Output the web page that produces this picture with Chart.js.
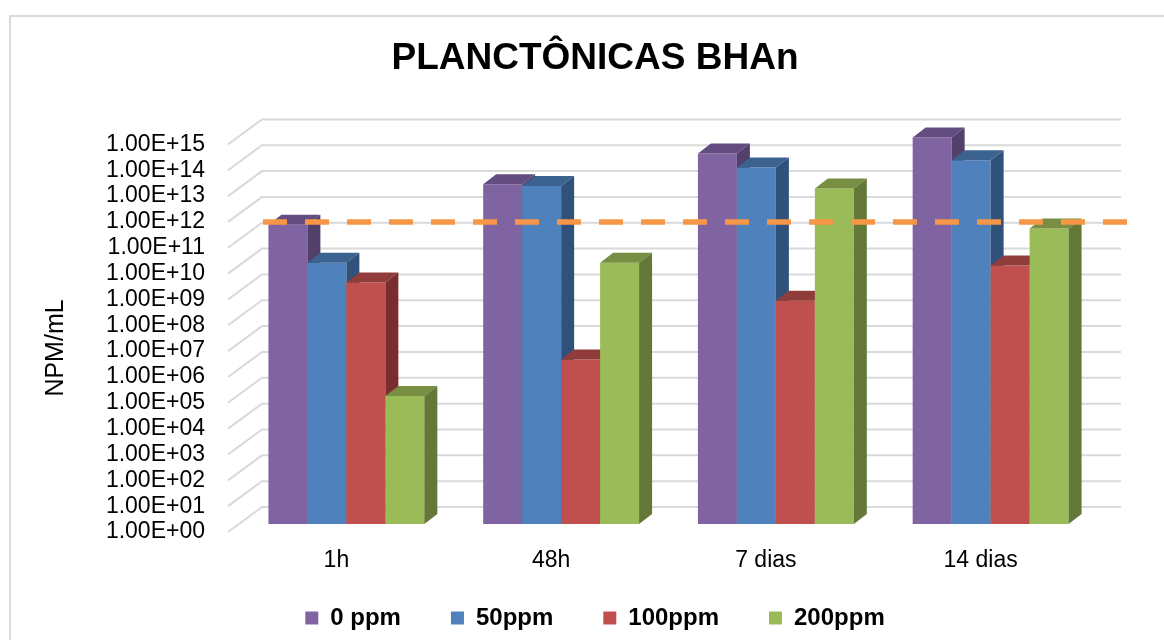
<!DOCTYPE html>
<html>
<head>
<meta charset="utf-8">
<script src="https://cdn.jsdelivr.net/npm/chart.js@4.4.1/dist/chart.umd.min.js"></script>
<style>
  html, body { margin: 0; padding: 0; background: #ffffff; }
  canvas { display: block; }
</style>
</head>
<body>
<canvas id="chart" width="1164" height="640"></canvas>
<script>
// Sampling times and treatment concentrations
const categories = ['1h', '48h', '7 dias', '14 dias'];
const seriesNames = ['0 ppm', '50ppm', '100ppm', '200ppm'];

// NPM/mL per treatment
const ppm0   = [3.8e11, 1.4e13, 2.2e14, 9.1e14];
const ppm50  = [1.3e10, 1.2e13, 6.2e13, 1.2e14];
const ppm100 = [2.2e9,  2.3e6,  4.4e8,  1.0e10];
const ppm200 = [9.0e4,  1.3e10, 9.6e12, 2.7e11];

// Logarithmic axis ticks
const tickValues = [1, 1e1, 1e2, 1e3, 1e4, 1e5, 1e6, 1e7, 1e8, 1e9, 1e10, 1e11, 1e12, 1e13, 1e14, 1e15];
const tickLabels = ['1.00E+00', '1.00E+01', '1.00E+02', '1.00E+03', '1.00E+04', '1.00E+05',
                    '1.00E+06', '1.00E+07', '1.00E+08', '1.00E+09', '1.00E+10', '1.00E+11',
                    '1.00E+12', '1.00E+13', '1.00E+14', '1.00E+15'];

// Reference level marked with the dashed line
const referenceLevel = 1e12;

const axisTitle = 'NPM/mL';

// Colours: front, top and side faces of each series
const frontColors = ['#8064A2', '#4F81BD', '#C0504D', '#9BBB59'];
const topColors   = ['#634D80', '#3C628F', '#903C3A', '#778E43'];
const sideColors  = ['#52406B', '#30527A', '#792E2D', '#647837'];

const FONT = '"Liberation Sans", Arial, sans-serif';

// Perspective offsets (pixels)
const BAR_SHIFT_X = 11, BAR_SHIFT_Y = -8;   // bar plane relative to the axis plane
const BAR_DEPTH_X = 13, BAR_DEPTH_Y = -10;  // bar thickness
const WALL_X = 34, WALL_Y = -25;            // back wall relative to the axis plane

const seriesData = [ppm0, ppm50, ppm100, ppm200];

const depthPlugin = {
  id: 'depth3d',
  beforeDraw(chart) {
    const ctx = chart.ctx;
    ctx.save();
    ctx.fillStyle = '#ffffff';
    ctx.fillRect(0, 0, chart.width, chart.height);
    ctx.strokeStyle = '#d9d9d9';
    ctx.lineWidth = 2;
    ctx.beginPath();
    ctx.moveTo(10, chart.height);
    ctx.lineTo(10, 16);
    ctx.lineTo(chart.width, 16);
    ctx.stroke();
    ctx.restore();
  },
  beforeDatasetsDraw(chart) {
    // floor/side slants and back-wall gridlines at every tick
    const ctx = chart.ctx;
    const y = chart.scales.y;
    const area = chart.chartArea;
    ctx.save();
    ctx.strokeStyle = '#d9d9d9';
    ctx.lineWidth = 2;
    tickValues.forEach(v => {
      const py = y.getPixelForValue(v);
      ctx.beginPath();
      ctx.moveTo(area.left, py);
      ctx.lineTo(area.left + WALL_X, py + WALL_Y);
      ctx.lineTo(area.right + WALL_X, py + WALL_Y);
      ctx.stroke();
    });
    ctx.restore();
  },
  beforeDatasetDraw() {
    // bars are painted left to right below, so the 3D faces overlap correctly
    return false;
  },
  afterDatasetsDraw(chart) {
    const ctx = chart.ctx;
    const metas = chart.getSortedVisibleDatasetMetas();
    ctx.save();
    ctx.translate(BAR_SHIFT_X, BAR_SHIFT_Y);
    metas.forEach(meta => {
      const di = meta.index;
      meta.data.forEach(bar => {
        const p = bar.getProps(['x', 'y', 'base', 'width'], true);
        bar.draw(ctx);
        const l = p.x - p.width / 2, r = p.x + p.width / 2;
        // top face
        ctx.fillStyle = topColors[di];
        ctx.beginPath();
        ctx.moveTo(l, p.y);
        ctx.lineTo(r, p.y);
        ctx.lineTo(r + BAR_DEPTH_X, p.y + BAR_DEPTH_Y);
        ctx.lineTo(l + BAR_DEPTH_X, p.y + BAR_DEPTH_Y);
        ctx.closePath();
        ctx.fill();
        // side face
        ctx.fillStyle = sideColors[di];
        ctx.beginPath();
        ctx.moveTo(r, p.y);
        ctx.lineTo(r + BAR_DEPTH_X, p.y + BAR_DEPTH_Y);
        ctx.lineTo(r + BAR_DEPTH_X, p.base + BAR_DEPTH_Y);
        ctx.lineTo(r, p.base);
        ctx.closePath();
        ctx.fill();
      });
    });
    ctx.restore();

    // dashed reference line
    const y = chart.scales.y;
    const area = chart.chartArea;
    const py = y.getPixelForValue(referenceLevel);
    ctx.save();
    ctx.strokeStyle = '#F79646';
    ctx.lineWidth = 5.5;
    ctx.setLineDash([24, 18]);
    ctx.beginPath();
    ctx.moveTo(area.left + 35, py);
    ctx.lineTo(area.right + 40, py);
    ctx.stroke();
    ctx.restore();
  },
  afterDraw(chart) {
    const ctx = chart.ctx;
    ctx.save();
    ctx.fillStyle = '#000000';
    ctx.textAlign = 'center';
    ctx.textBaseline = 'middle';

    // category labels under the floor
    const x = chart.scales.x;
    ctx.font = '23px ' + FONT;
    categories.forEach((c, i) => {
      ctx.fillText(c, x.getPixelForValue(i) + 1, chart.chartArea.bottom + 29);
    });

    // vertical axis title
    ctx.translate(56, 348);
    ctx.rotate(-Math.PI / 2);
    ctx.font = '25px ' + FONT;
    ctx.fillText(axisTitle, 0, 0);
    ctx.restore();
  }
};

const datasets = seriesNames.map((name, i) => ({
  label: name,
  data: seriesData[i],
  backgroundColor: frontColors[i],
  borderWidth: 0,
  categoryPercentage: 0.726,
  barPercentage: 1.0
}));

new Chart(document.getElementById('chart'), {
  type: 'bar',
  data: { labels: categories, datasets },
  plugins: [depthPlugin],
  options: {
    responsive: false,
    animation: false,
    layout: { padding: { left: 36, right: 10, top: 10, bottom: 0 } },
    plugins: {
      tooltip: { enabled: false },
      title: {
        display: true,
        text: 'PLANCTÔNICAS BHAn',
        color: '#000000',
        font: { family: FONT, size: 37, weight: 'bold' },
        padding: { top: 27, bottom: 63 }
      },
      legend: {
        position: 'bottom',
        labels: {
          color: '#000000',
          font: { family: FONT, size: 24, weight: 'bold' },
          boxWidth: 13,
          boxHeight: 13,
          padding: 50,
          sort: (a, b) => a.datasetIndex - b.datasetIndex
        }
      }
    },
    scales: {
      x: {
        type: 'category',
        offset: true,
        grid: { display: false },
        border: { display: false },
        ticks: { display: false },
        afterFit: s => { s.height = 24; }
      },
      y: {
        type: 'logarithmic',
        position: 'left',
        min: 1,
        max: 1e15,
        grid: { display: false },
        border: { display: false },
        ticks: {
          color: '#000000',
          font: { family: FONT, size: 23 },
          padding: 15,
          autoSkip: false,
          callback: (value) => {
            const i = tickValues.indexOf(value);
            return i >= 0 ? tickLabels[i] : '';
          }
        },
        afterBuildTicks: s => { s.ticks = tickValues.map(v => ({ value: v })); },
        afterFit: s => { s.width = 192; }
      },
      spacer: {
        type: 'linear',
        position: 'right',
        display: true,
        grid: { display: false },
        border: { display: false },
        ticks: { display: false },
        afterFit: s => { s.width = 67; }
      }
    }
  }
});
</script>
</body>
</html>
